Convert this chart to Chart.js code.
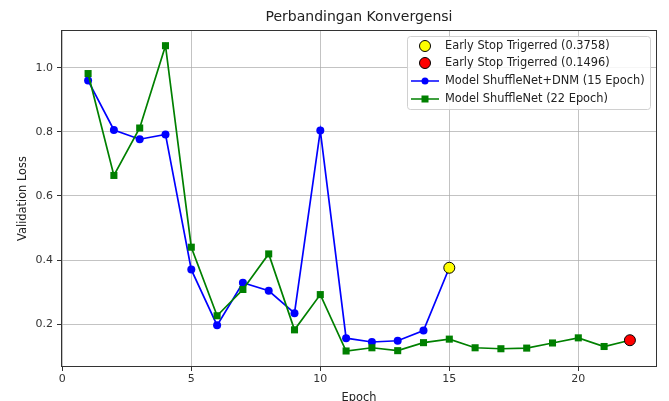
<!DOCTYPE html>
<html>
<head>
<meta charset="utf-8">
<script src="https://cdn.jsdelivr.net/npm/chart.js@4.4.1/dist/chart.umd.min.js"></script>
<style>
html,body{margin:0;padding:0;overflow:hidden;background:#fff;}
#wrap{width:669px;height:410px;position:relative;}
</style>
</head>
<body>
<div id="wrap"><canvas id="c" width="669" height="410"></canvas></div>
<script>
const titleText = "Perbandingan Konvergensi";
const xLabel = "Epoch";
const yLabel = "Validation Loss";
const xTicks = [0, 5, 10, 15, 20];
const yTicks = [0.2, 0.4, 0.6, 0.8, 1.0];
const dnmEpochs = [1,2,3,4,5,6,7,8,9,10,11,12,13,14,15];
const dnmLoss = [0.960,0.806,0.777,0.792,0.370,0.196,0.329,0.304,0.234,0.804,0.156,0.144,0.148,0.180,0.3758];
const baseEpochs = [1,2,3,4,5,6,7,8,9,10,11,12,13,14,15,16,17,18,19,20,21,22];
const baseLoss = [0.982,0.664,0.812,1.069,0.440,0.226,0.308,0.419,0.182,0.292,0.116,0.126,0.117,0.142,0.153,0.126,0.123,0.125,0.141,0.157,0.130,0.1496];
const stopEpochs = [15, 22];
const stopLoss = [0.3758, 0.1496];
const legendLabels = ["Early Stop Trigerred (0.3758)", "Early Stop Trigerred (0.1496)", "Model ShuffleNet+DNM (15 Epoch)", "Model ShuffleNet (22 Epoch)"];

const FONT = "'DejaVu Sans', sans-serif";
const toXY = (xs, ys) => xs.map((x, i) => ({x: x, y: ys[i]}));

const framePlugin = {
  id: 'frame',
  afterDraw(chart) {
    const {ctx, chartArea: a} = chart;
    ctx.save();
    ctx.strokeStyle = '#333';
    ctx.lineWidth = 1;
    ctx.strokeRect(a.left + 0.5, a.top + 0.5, a.right - a.left - 1, a.bottom - a.top - 1);
    ctx.fillStyle = '#222';
    ctx.font = "14px " + FONT;
    ctx.textAlign = 'center';
    ctx.textBaseline = 'middle';
    ctx.fillText(titleText, (a.left + a.right) / 2, 17);
    const bx = 407, by = 36, bw = 243, bh = 73;
    ctx.fillStyle = 'rgba(255,255,255,0.85)';
    ctx.strokeStyle = '#d0d0d0';
    ctx.beginPath();
    if (ctx.roundRect) ctx.roundRect(bx + 0.5, by + 0.5, bw, bh, 3); else ctx.rect(bx + 0.5, by + 0.5, bw, bh);
    ctx.fill();
    ctx.stroke();
    const rows = [46, 63, 81, 99];
    const mx = 425;
    ctx.textAlign = 'left';
    ctx.font = "11.4px " + FONT;
    const ds = chart.data.datasets;
    const drawCircle = (y, fill, r) => {
      ctx.beginPath(); ctx.arc(mx, y, r, 0, Math.PI * 2);
      ctx.fillStyle = fill; ctx.fill(); ctx.strokeStyle = '#000'; ctx.lineWidth = 1; ctx.stroke();
    };
    drawCircle(rows[0], ds[2].backgroundColor, 5.5);
    drawCircle(rows[1], ds[3].backgroundColor, 5.5);
    ctx.strokeStyle = ds[0].borderColor; ctx.lineWidth = 1.5;
    ctx.beginPath(); ctx.moveTo(411, rows[2]); ctx.lineTo(439, rows[2]); ctx.stroke();
    ctx.beginPath(); ctx.arc(mx, rows[2], 3.5, 0, Math.PI * 2); ctx.fillStyle = ds[0].borderColor; ctx.fill();
    ctx.strokeStyle = ds[1].borderColor;
    ctx.beginPath(); ctx.moveTo(411, rows[3]); ctx.lineTo(439, rows[3]); ctx.stroke();
    ctx.fillStyle = ds[1].borderColor; ctx.fillRect(mx - 3.5, rows[3] - 3.5, 7, 7);
    ctx.fillStyle = '#222';
    legendLabels.forEach((t, i) => ctx.fillText(t, 445, rows[i]));
    ctx.restore();
  }
};

new Chart(document.getElementById('c'), {
  type: 'line',
  data: {
    datasets: [
      {
        label: legendLabels[2], data: toXY(dnmEpochs, dnmLoss),
        borderColor: '#0000ff', backgroundColor: '#0000ff', borderWidth: 1.7,
        pointStyle: 'circle', pointRadius: 4, pointBorderWidth: 0, order: 2
      },
      {
        label: legendLabels[3], data: toXY(baseEpochs, baseLoss),
        borderColor: '#008000', backgroundColor: '#008000', borderWidth: 1.7,
        pointStyle: 'rect', pointRadius: 5, pointBorderWidth: 0, order: 1
      },
      {
        label: legendLabels[0], data: toXY([stopEpochs[0]], [stopLoss[0]]),
        showLine: false, backgroundColor: '#ffff00', borderColor: '#000',
        pointRadius: 5.5, pointBorderWidth: 1, order: 0
      },
      {
        label: legendLabels[1], data: toXY([stopEpochs[1]], [stopLoss[1]]),
        showLine: false, backgroundColor: '#ff0000', borderColor: '#000',
        pointRadius: 5.5, pointBorderWidth: 1, order: 0
      }
    ]
  },
  options: {
    responsive: false,
    animation: false,
    layout: {padding: {top: 30, right: 12, left: 0, bottom: 0}},
    plugins: {legend: {display: false}, tooltip: {enabled: false}, title: {display: false}},
    elements: {line: {tension: 0}},
    scales: {
      x: {
        type: 'linear', min: -0.05, max: 23.05,
        afterBuildTicks(s) { s.ticks = xTicks.map(v => ({value: v})); },
        afterFit(s) { s.height = 43; },
        grid: {color: 'rgba(170,170,170,0.7)', lineWidth: 1, tickColor: '#333', tickLength: 4},
        border: {display: false},
        ticks: {color: '#333', font: {family: FONT, size: 11}, padding: 2, maxRotation: 0,
          callback: v => String(v)},
        title: {display: true, text: xLabel, color: '#222', font: {family: FONT, size: 11.4}, padding: {top: 4, bottom: 5}}
      },
      y: {
        type: 'linear', min: 0.066, max: 1.118,
        afterBuildTicks(s) { s.ticks = yTicks.map(v => ({value: v})); },
        afterFit(s) { s.width = 61; },
        grid: {color: 'rgba(170,170,170,0.7)', lineWidth: 1, tickColor: '#333', tickLength: 4},
        border: {display: false},
        ticks: {color: '#333', font: {family: FONT, size: 11}, padding: 4,
          callback: v => v.toFixed(1)},
        title: {display: true, text: yLabel, color: '#222', font: {family: FONT, size: 11.4}, padding: {top: 16, bottom: 4}}
      }
    }
  },
  plugins: [framePlugin]
});
</script>
</body>
</html>
